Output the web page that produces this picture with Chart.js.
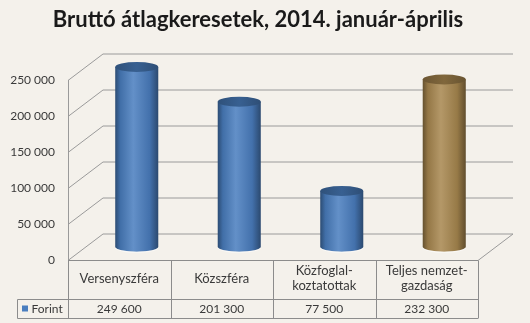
<!DOCTYPE html>
<html>
<head>
<meta charset="utf-8">
<script src="https://cdn.jsdelivr.net/npm/chart.js@4.4.1/dist/chart.umd.min.js"></script>
<style>
  html, body { margin: 0; padding: 0; background: #f4f1eb; }
  #wrap { width: 530px; height: 323px; }
</style>
</head>
<body>
<div id="wrap"><canvas id="chart"></canvas></div>
<script>
const categories = [["Versenyszféra"], ["Közszféra"], ["Közfoglal-", "koztatottak"], ["Teljes nemzet-", "gazdaság"]]
const forint = [249600, 201300, 77500, 232300]
const yTicks = [0, 50000, 100000, 150000, 200000, 250000]
const barColors = ["#4a7ebf", "#4a7ebf", "#4a7ebf", "#a8874f"]
const seriesName = "Forint"

// 3D look: the back wall sits this far right/up from the front plane
const DEPTH_X = 35
const DEPTH_Y = 26.5
const FONT = "Lato, 'Open Sans', sans-serif"
const TEXT = "#3a3a3a"
const LINE = "#9a9a9a"

const fmt = (v) => String(v).replace(/\B(?=(\d{3})+(?!\d))/g, " ")

function shade(hex, f) {
  const n = parseInt(hex.slice(1), 16)
  const ch = [(n >> 16) & 255, (n >> 8) & 255, n & 255].map((c) => {
    const t = f < 0 ? 0 : 255
    return Math.round(c + (t - c) * Math.abs(f))
  })
  return `rgb(${ch.join(",")})`
}

// side walls, floor and back gridlines
const walls = {
  id: "walls",
  beforeDatasetsDraw(chart) {
    const { ctx, chartArea: a, scales: { y } } = chart
    ctx.save()
    ctx.lineWidth = 1
    ctx.strokeStyle = LINE
    yTicks.forEach((v) => {
      const py = Math.round(y.getPixelForValue(v)) + 0.5
      ctx.beginPath()
      ctx.moveTo(a.left, py)
      ctx.lineTo(a.left + DEPTH_X, py - DEPTH_Y)
      ctx.lineTo(a.right + DEPTH_X, py - DEPTH_Y)
      if (v === 0) ctx.lineTo(a.right, py)
      ctx.stroke()
    })
    ctx.beginPath()
    ctx.moveTo(a.left + 0.5, y.getPixelForValue(yTicks[yTicks.length - 1]))
    ctx.lineTo(a.left + 0.5, a.bottom)
    ctx.stroke()
    ctx.restore()
  }
}

// each bar becomes a shaded cylinder standing at mid depth
const cylinders = {
  id: "cylinders",
  beforeDatasetDraw() { return false },
  afterDatasetsDraw(chart) {
    const ctx = chart.ctx
    const meta = chart.getDatasetMeta(0)
    meta.data.forEach((bar, i) => {
      const { x, y, base, width } = bar.getProps(["x", "y", "base", "width"], true)
      const cx = x + DEPTH_X / 2
      const top = y - DEPTH_Y / 2
      const bottom = base - DEPTH_Y / 2
      const rx = width / 2
      const ry = 5
      const col = barColors[i]

      ctx.save()
      const g = ctx.createLinearGradient(cx - rx, 0, cx + rx, 0)
      g.addColorStop(0, shade(col, -0.4))
      g.addColorStop(0.12, shade(col, -0.12))
      g.addColorStop(0.42, shade(col, 0.14))
      g.addColorStop(0.8, shade(col, -0.1))
      g.addColorStop(1, shade(col, -0.42))
      ctx.beginPath()
      ctx.moveTo(cx - rx, top)
      ctx.lineTo(cx - rx, bottom)
      ctx.ellipse(cx, bottom, rx, ry, 0, Math.PI, 0, true)
      ctx.lineTo(cx + rx, top)
      ctx.closePath()
      ctx.fillStyle = g
      ctx.fill()

      // faint light rim along the foot
      ctx.beginPath()
      ctx.ellipse(cx, bottom + 0.5, rx, ry, 0, Math.PI * 0.95, Math.PI * 0.05, true)
      ctx.strokeStyle = "rgba(255,255,255,0.55)"
      ctx.lineWidth = 1.2
      ctx.stroke()

      const tg = ctx.createLinearGradient(cx - rx, top, cx + rx, top)
      tg.addColorStop(0, shade(col, -0.36))
      tg.addColorStop(0.5, shade(col, -0.24))
      tg.addColorStop(1, shade(col, -0.38))
      ctx.beginPath()
      ctx.ellipse(cx, top, rx, ry, 0, 0, Math.PI * 2)
      ctx.fillStyle = tg
      ctx.fill()
      ctx.restore()
    })
  }
}

// data table under the floor: outline, legend key and the values row
const dataTable = {
  id: "dataTable",
  afterDraw(chart) {
    const { ctx, chartArea: a, scales: { x } } = chart
    const top = Math.round(a.bottom) + 0.5
    const mid = top + 39
    const bot = mid + 19
    const keyLeft = 17.5
    const step = (a.right - a.left) / categories.length
    ctx.save()
    ctx.strokeStyle = "#8c8c8c"
    ctx.lineWidth = 1
    ctx.beginPath()
    ctx.moveTo(a.left, top); ctx.lineTo(a.right, top)
    ctx.moveTo(keyLeft, mid); ctx.lineTo(a.right, mid)
    ctx.moveTo(keyLeft, bot); ctx.lineTo(a.right, bot)
    ctx.moveTo(keyLeft, mid); ctx.lineTo(keyLeft, bot)
    for (let i = 0; i <= categories.length; i++) {
      const px = Math.round(a.left + i * step) + 0.5
      ctx.moveTo(px, top); ctx.lineTo(px, bot)
    }
    ctx.stroke()

    ctx.fillStyle = barColors[0]
    ctx.fillRect(keyLeft + 4.5, mid + 6, 6, 6)
    ctx.fillStyle = TEXT
    ctx.font = `12px ${FONT}`
    ctx.textBaseline = "middle"
    ctx.textAlign = "left"
    ctx.fillText(seriesName, keyLeft + 14, (mid + bot) / 2)
    ctx.textAlign = "center"
    forint.forEach((v, i) => {
      ctx.fillText(fmt(v), x.getPixelForTick(i), (mid + bot) / 2)
    })
    ctx.restore()
  }
}

new Chart(document.getElementById("chart"), {
  type: "bar",
  data: {
    labels: categories,
    datasets: [{
      label: seriesName,
      data: forint,
      backgroundColor: barColors,
      barPercentage: 0.42,
      categoryPercentage: 1
    }]
  },
  plugins: [walls, cylinders, dataTable],
  options: {
    responsive: true,
    maintainAspectRatio: false,
    animation: false,
    layout: { padding: { left: 0, right: 14, top: 0, bottom: 0 } },
    plugins: {
      legend: { display: false },
      tooltip: { enabled: false },
      title: {
        display: true,
        text: "Bruttó átlagkeresetek, 2014. január-április",
        color: "#1a1a1a",
        font: { family: FONT, size: 22, weight: "bold", lineHeight: 1.2 },
        padding: { top: 7, bottom: 46.6 }
      }
    },
    scales: {
      x: {
        grid: { display: false, drawTicks: false },
        border: { display: false },
        ticks: {
          color: TEXT,
          font: { family: FONT, size: 13, lineHeight: 1.15 },
          padding: 11,
          maxRotation: 0,
          autoSkip: false,
          crossAlign: "center"
        },
        afterFit: (scale) => { scale.height = 63 }
      },
      y: {
        min: 0,
        max: 250000,
        grid: { display: false, drawTicks: false },
        border: { display: false },
        afterBuildTicks: (scale) => { scale.ticks = yTicks.map((value) => ({ value })) },
        ticks: {
          color: TEXT,
          font: { family: FONT, size: 12 },
          padding: 13,
          callback: (value) => fmt(value)
        },
        afterFit: (scale) => { scale.width = 68 }
      },
      // empty strip on the right that leaves room for the 3D depth
      depth: {
        type: "linear",
        position: "right",
        display: true,
        grid: { display: false, drawTicks: false },
        border: { display: false },
        ticks: { display: false },
        afterFit: (scale) => { scale.width = 38 }
      }
    }
  }
})
</script>
</body>
</html>
